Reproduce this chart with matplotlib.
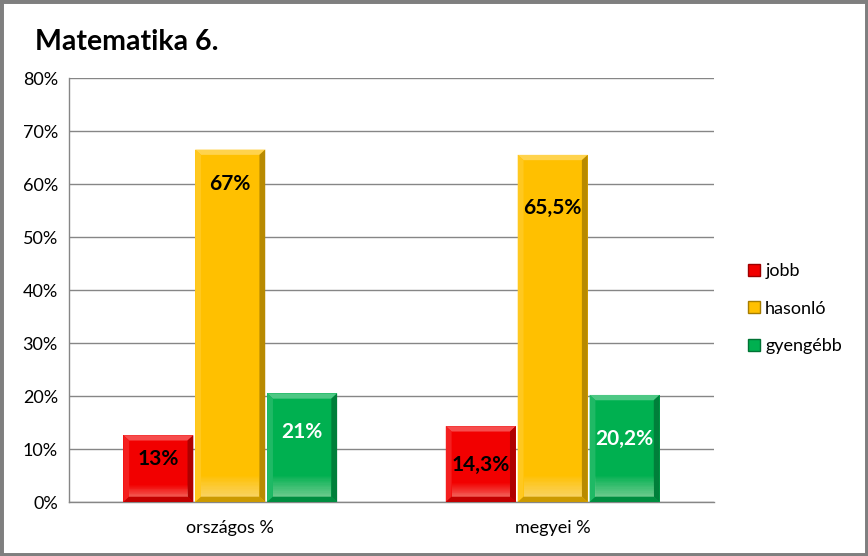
import matplotlib
matplotlib.use("Agg")
import matplotlib.pyplot as plt
import numpy as np
from matplotlib.patches import Rectangle, Polygon
from matplotlib.colors import to_rgb

plt.rcParams["font.family"] = ["Lato", "DejaVu Sans"]

# data
categories = ["országos %", "megyei %"]
series = ["jobb", "hasonló", "gyengébb"]
values = {
    "jobb":     [12.6, 14.3],
    "hasonló":  [66.5, 65.5],
    "gyengébb": [20.5, 20.2],
}
labels = {
    "jobb":     ["13%", "14,3%"],
    "hasonló":  ["67%", "65,5%"],
    "gyengébb": ["21%", "20,2%"],
}

COLORS = {"jobb": "#F20000", "hasonló": "#FFC000", "gyengébb": "#00B050"}
TEXT_COLORS = {"jobb": "black", "hasonló": "black", "gyengébb": "white"}
# label offset below the bar top, in points
LABEL_OFFSETS = {"jobb": [17, 28], "hasonló": [25, 38], "gyengébb": [28, 32]}


def shade(c, f):
    r = np.array(to_rgb(c))
    if f >= 0:
        return tuple(r + (1 - r) * f)
    return tuple(r * (1 + f))


def bevel_bar(ax, x0, w, h, color, bx=0.018, by=1.0):
    """Bar with a simple bevelled look."""
    ax.add_patch(Rectangle((x0, 0), w, h, facecolor=color, edgecolor="none", zorder=3))
    x1 = x0 + w
    # top edge (light)
    ax.add_patch(Polygon([(x0, h), (x1, h), (x1 - bx, h - by), (x0 + bx, h - by)],
                         facecolor=shade(color, 0.3), edgecolor="none", zorder=4))
    # left edge (light)
    ax.add_patch(Polygon([(x0, 0), (x0, h), (x0 + bx, h - by), (x0 + bx, by)],
                         facecolor=shade(color, 0.12), edgecolor="none", zorder=4))
    # right edge (dark)
    ax.add_patch(Polygon([(x1, 0), (x1, h), (x1 - bx, h - by), (x1 - bx, by)],
                         facecolor=shade(color, -0.28), edgecolor="none", zorder=4))
    # bottom glow
    n = 20
    gh = min(h * 0.25, 5.0)
    for i in range(n):
        y0 = gh * i / n
        a = 0.55 * (1 - i / n)
        ax.add_patch(Rectangle((x0 + bx, y0), w - 2 * bx, gh / n, facecolor="#F3EBD8",
                               alpha=a, edgecolor="none", zorder=4))
    ax.add_patch(Polygon([(x0, 0), (x1, 0), (x1 - bx, by), (x0 + bx, by)],
                         facecolor=shade(color, -0.2), edgecolor="none", zorder=4))


fig = plt.figure(figsize=(8.68, 5.56), dpi=100)
ax = fig.add_axes([0.0795, 0.0971, 0.743, 0.7626])

x = np.arange(len(categories))
width = 0.217
gap = 0.006
for i, s in enumerate(series):
    for j, xc in enumerate(x):
        x0 = xc + (i - 1) * (width + gap) - width / 2
        v = values[s][j]
        bevel_bar(ax, x0, width, v, COLORS[s])
        ax.annotate(labels[s][j], (x0 + width / 2, v), xytext=(0, -LABEL_OFFSETS[s][j]),
                    textcoords="offset points", ha="center", va="center",
                    fontsize=15, fontweight="bold", color=TEXT_COLORS[s], zorder=6)

ax.set_xlim(-0.5, 1.5)
ax.set_ylim(0, 80)
ax.set_yticks(np.arange(0, 81, 10))
ax.set_yticklabels([f"{t}%" for t in range(0, 81, 10)], fontsize=13)
ax.set_xticks(x)
ax.set_xticklabels(categories, fontsize=13)
ax.tick_params(length=0, pad=8)
ax.tick_params(axis="x", pad=13)
ax.grid(axis="y", color="#868686", linewidth=1)
ax.set_axisbelow(True)
for side in ["top", "right"]:
    ax.spines[side].set_visible(False)
for side in ["left", "bottom"]:
    ax.spines[side].set_color("#868686")
    ax.spines[side].set_linewidth(1)

handles = [Rectangle((0, 0), 1, 1, facecolor=COLORS[s], edgecolor=shade(COLORS[s], -0.35)) for s in series]
fig.legend(handles, series, loc="upper left", bbox_to_anchor=(0.843, 0.556), frameon=False,
           fontsize=13, handlelength=0.65, handleheight=0.65, handletextpad=0.3, labelspacing=1.2)

fig.text(0.04, 0.925, "Matematika 6.", fontsize=20.5, fontweight="bold", ha="left", va="center")
fig.patches.append(Rectangle((0, 0), 1, 1, transform=fig.transFigure, fill=False,
                             edgecolor="#7F7F7F", linewidth=5, zorder=10))

fig.savefig("out.png", dpi=100)
